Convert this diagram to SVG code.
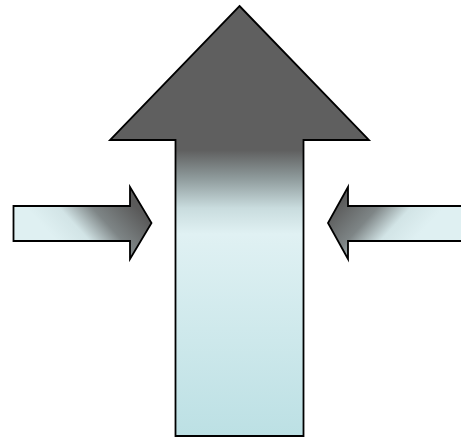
<svg xmlns="http://www.w3.org/2000/svg" width="461" height="439" viewBox="0 0 461 439">
<defs>
<linearGradient id="gBig" gradientUnits="userSpaceOnUse" x1="0" y1="6" x2="0" y2="436">
<stop offset="0" stop-color="#5f5f5f"/>
<stop offset="0.335" stop-color="#5f5f5f"/>
<stop offset="0.40" stop-color="#8e9a9b"/>
<stop offset="0.47" stop-color="#c9dcde"/>
<stop offset="0.53" stop-color="#e0f1f3"/>
<stop offset="1" stop-color="#bce0e4"/>
</linearGradient>
<linearGradient id="gLeft" gradientUnits="userSpaceOnUse" x1="65" y1="250" x2="125" y2="195">
<stop offset="0" stop-color="#dff0f2"/>
<stop offset="0.3" stop-color="#d2e4e6"/>
<stop offset="0.6" stop-color="#7e8586"/>
<stop offset="1" stop-color="#5a5a5a"/>
</linearGradient>
<linearGradient id="gRight" gradientUnits="userSpaceOnUse" x1="405" y1="250" x2="345" y2="195">
<stop offset="0" stop-color="#dff0f2"/>
<stop offset="0.3" stop-color="#d2e4e6"/>
<stop offset="0.6" stop-color="#7e8586"/>
<stop offset="1" stop-color="#5a5a5a"/>
</linearGradient>
</defs>
<style>
.arr{stroke:#000;stroke-width:1.8;stroke-linejoin:miter}
</style>
<g id="big-arrow">
<polygon class="arr" fill="url(#gBig)" points="239.5,6 369,140 303.5,140 303.5,436 175.5,436 175.5,140 110,140"/>
</g>
<g id="left-arrow">
<polygon class="arr" fill="url(#gLeft)" points="13.5,206 130,206 130,187 151.5,223 130,259 130,241 13.5,241"/>
</g>
<g id="right-arrow">
<polygon class="arr" fill="url(#gRight)" points="462,206 348,206 348,187 328,223 348,259 348,241 462,241"/>
</g>
</svg>
